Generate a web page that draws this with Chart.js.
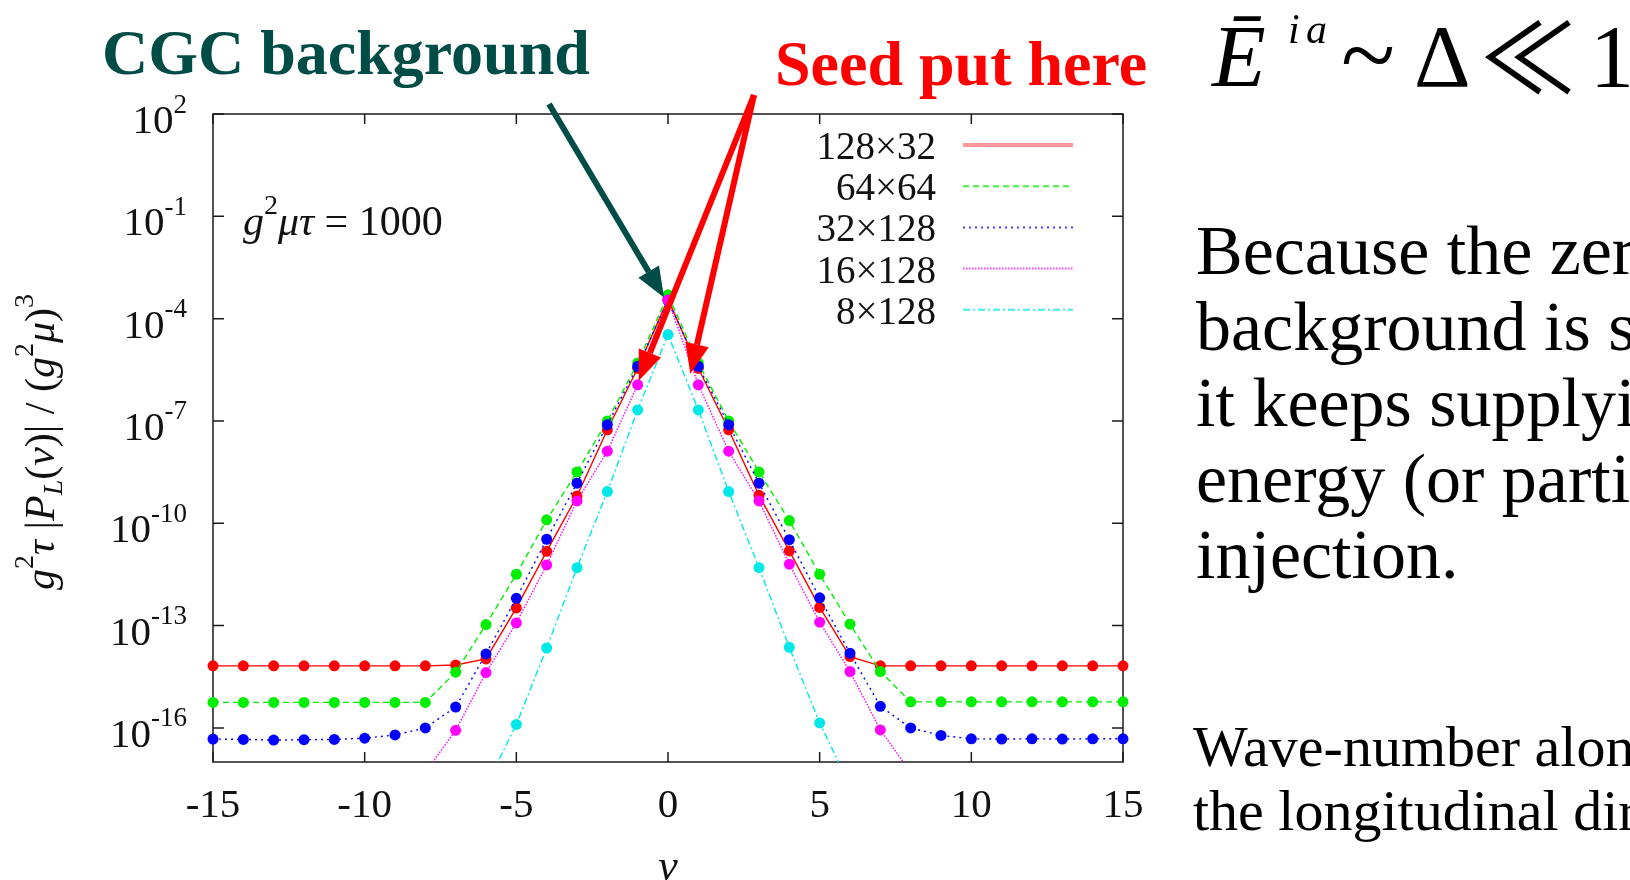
<!DOCTYPE html>
<html>
<head>
<meta charset="utf-8">
<script src="https://cdn.jsdelivr.net/npm/chart.js@4.4.1/dist/chart.umd.min.js"></script>
<style>
html, body { margin: 0; padding: 0; width: 1630px; height: 880px; overflow: hidden; background: #fff; }
#plot { position: absolute; left: 0; top: 0; }
.t { position: absolute; white-space: nowrap; font-family: "Liberation Serif", "Times New Roman", serif; line-height: 1; color: #000; }
.it { font-style: italic; }
#cgc { left: 102px; top: 21px; font-size: 64px; font-weight: bold; color: #004d47; }
#seed { left: 775px; top: 32px; font-size: 64px; font-weight: bold; color: #ff0000; }
.m88 { font-size: 88px; top: 13px; }
.m42 { font-size: 42px; top: 8px; }
#para { left: 1196px; top: 213px; font-size: 70px; line-height: 76px; }
#wave { left: 1193px; top: 715px; font-size: 58px; line-height: 64px; }
</style>
</head>
<body>
<canvas id="plot" width="1630" height="880"></canvas>

<div class="t" id="cgc">CGC background</div>
<div class="t" id="seed">Seed put here</div>

<span class="t it m88" style="left:1212px">Ē</span>
<span class="t it m42" style="left:1288px">i</span>
<span class="t it m42" style="left:1306px">a</span>
<span class="t" style="left:1341px; top:5px; font-size:100px">~</span>
<span class="t m88" style="left:1414px">Δ</span>
<span class="t" style="left:1480px; top:4px; font-size:96px; font-family:'Noto Sans CJK JP', 'DejaVu Serif', serif">≪</span>
<span class="t m88" style="left:1590px">1</span>

<div class="t" id="para">Because the zero-mode<br>background is strong,<br>it keeps supplying<br>energy (or particle)<br>injection.</div>
<div class="t" id="wave">Wave-number along<br>the longitudinal direction</div>

<script>
// wave number along the longitudinal direction
const nu = [-15, -14, -13, -12, -11, -10, -9, -8, -7, -6, -5, -4, -3, -2, -1, 0,
            1, 2, 3, 4, 5, 6, 7, 8, 9, 10, 11, 12, 13, 14, 15];

const seriesLabels = ['128×32', '64×64', '32×128', '16×128', '8×128'];

// g^2 tau |P_L(nu)| / (g^2 mu)^3 at g^2 mu tau = 1000
const red128x32 = [6.6e-15, 6.6e-15, 6.6e-15, 6.6e-15, 6.6e-15, 6.6e-15, 6.6e-15, 6.6e-15,
  7.0e-15, 1.05e-14, 3.3e-13, 1.5e-11, 6.3e-10, 5.5e-8, 3.5e-6, 3.8e-4, 3.5e-6, 5.5e-8,
  6.6e-10, 1.55e-11, 3.4e-13, 1.23e-14, 6.6e-15, 6.6e-15, 6.6e-15, 6.6e-15, 6.6e-15,
  6.6e-15, 6.6e-15, 6.6e-15, 6.6e-15];
const green64x64 = [5.6e-16, 5.6e-16, 5.6e-16, 5.6e-16, 5.6e-16, 5.6e-16, 5.6e-16, 5.6e-16,
  4.3e-15, 1.07e-13, 3.2e-12, 1.26e-10, 3.2e-9, 1.0e-7, 5.0e-6, 5.0e-4, 5.0e-6, 1.0e-7,
  3.2e-9, 1.2e-10, 3.2e-12, 1.1e-13, 4.5e-15, 5.8e-16, 5.8e-16, 5.8e-16, 5.8e-16,
  5.8e-16, 5.8e-16, 5.8e-16, 5.8e-16];
const blue32x128 = [4.7e-17, 4.6e-17, 4.4e-17, 4.5e-17, 4.6e-17, 5.0e-17, 6.2e-17, 1.0e-16,
  4.1e-16, 1.48e-14, 6.3e-13, 3.4e-11, 1.5e-9, 7.8e-8, 4.0e-6, 3.4e-4, 4.0e-6, 7.8e-8,
  1.5e-9, 3.3e-11, 6.5e-13, 1.55e-14, 4.3e-16, 1.0e-16, 6.0e-17, 4.8e-17, 4.7e-17,
  4.8e-17, 4.7e-17, 4.8e-17, 4.8e-17];
const magenta16x128 = [null, null, null, null, null, null, null, 5e-18,
  8.5e-17, 4.2e-15, 1.2e-13, 6.0e-12, 4.5e-10, 1.3e-8, 1.15e-6, 3.5e-4, 1.15e-6, 1.3e-8,
  4.5e-10, 6.3e-12, 1.26e-13, 4.5e-15, 8.7e-17, 5e-18, null, null, null,
  null, null, null, null];
const cyan8x128 = [null, null, null, null, null, null, null, null,
  null, 2e-18, 1.26e-16, 2.2e-14, 5.0e-12, 8.5e-10, 2.1e-7, 3.4e-5, 2.1e-7, 8.5e-10,
  5.0e-12, 2.3e-14, 1.4e-16, 2e-18, null, null, null, null, null,
  null, null, null, null];

const xTicks = [-15, -10, -5, 0, 5, 10, 15];
const yTickExponents = [2, -1, -4, -7, -10, -13, -16];

const seriesValues = [red128x32, green64x64, blue32x128, magenta16x128, cyan8x128];
const seriesColors = ['#ff0000', '#00ee00', '#0000ff', '#ff00ff', '#00e8e8'];
const seriesDash = [[], [6, 4], [2, 4], [1.5, 1.5], [7, 3, 2, 3]];

const serif = '"Liberation Serif", "Times New Roman", serif';

// text made of plain, italic, superscript and subscript pieces
function pieceFont(p, size) {
  const s = (p.sup || p.sub) ? Math.round(size * 0.66) : size;
  return (p.it ? 'italic ' : '') + s + 'px ' + serif;
}
function richText(ctx, parts, x, y, size, align) {
  let w = 0;
  parts.forEach(p => { ctx.font = pieceFont(p, size); w += ctx.measureText(p.t).width; });
  let cx = align === 'right' ? x - w : align === 'center' ? x - w / 2 : x;
  ctx.textAlign = 'left';
  ctx.textBaseline = 'alphabetic';
  parts.forEach(p => {
    ctx.font = pieceFont(p, size);
    const dy = p.sup ? -size * 0.5 : p.sub ? size * 0.2 : 0;
    ctx.fillText(p.t, cx, y + dy);
    cx += ctx.measureText(p.t).width;
  });
}

function arrow(ctx, x0, y0, x1, y1, color, width, headLen, headHalf) {
  const ang = Math.atan2(y1 - y0, x1 - x0);
  const bx = x1 - headLen * Math.cos(ang);
  const by = y1 - headLen * Math.sin(ang);
  ctx.strokeStyle = color;
  ctx.fillStyle = color;
  ctx.lineWidth = width;
  ctx.beginPath();
  ctx.moveTo(x0, y0);
  ctx.lineTo(bx, by);
  ctx.stroke();
  ctx.beginPath();
  ctx.moveTo(x1, y1);
  ctx.lineTo(bx + headHalf * Math.sin(ang), by - headHalf * Math.cos(ang));
  ctx.lineTo(bx - headHalf * Math.sin(ang), by + headHalf * Math.cos(ang));
  ctx.closePath();
  ctx.fill();
}

// gnuplot-like box: inward ticks on all sides, labels, legend and arrows
const framePlugin = {
  id: 'frame',
  beforeDatasetsDraw(chart) {
    const { ctx, chartArea: a, scales: { x, y } } = chart;
    ctx.save();
    ctx.strokeStyle = '#1a1a1a';
    ctx.lineWidth = 1.5;
    ctx.strokeRect(a.left, a.top, a.right - a.left, a.bottom - a.top);
    ctx.beginPath();
    xTicks.forEach(v => {
      const px = x.getPixelForValue(v);
      ctx.moveTo(px, a.bottom); ctx.lineTo(px, a.bottom - 10);
      ctx.moveTo(px, a.top); ctx.lineTo(px, a.top + 10);
    });
    yTickExponents.forEach(e => {
      const py = y.getPixelForValue(Math.pow(10, e));
      ctx.moveTo(a.left, py); ctx.lineTo(a.left + 11, py);
      ctx.moveTo(a.right, py); ctx.lineTo(a.right - 11, py);
    });
    ctx.stroke();

    ctx.fillStyle = '#111';
    xTicks.forEach(v => {
      richText(ctx, [{ t: String(v) }], x.getPixelForValue(v), a.bottom + 55, 41, 'center');
    });
    yTickExponents.forEach(e => {
      const py = y.getPixelForValue(Math.pow(10, e));
      richText(ctx, [{ t: '10' }, { t: String(e), sup: true }], a.left - 26, py + 19, 41, 'right');
    });

    // axis titles
    richText(ctx, [{ t: 'ν', it: true }], x.getPixelForValue(0), 880, 44, 'center');
    ctx.save();
    ctx.translate(54, 442);
    ctx.rotate(-Math.PI / 2);
    richText(ctx, [
      { t: 'g', it: true }, { t: '2', sup: true }, { t: 'τ', it: true }, { t: ' |' },
      { t: 'P', it: true }, { t: 'L', it: true, sub: true }, { t: '(' }, { t: 'ν', it: true },
      { t: ')| / (' }, { t: 'g', it: true }, { t: '2', sup: true }, { t: 'μ', it: true },
      { t: ')' }, { t: '3', sup: true }
    ], 0, 0, 42, 'center');
    ctx.restore();

    richText(ctx, [
      { t: 'g', it: true }, { t: '2', sup: true }, { t: 'μτ', it: true }, { t: ' = 1000' }
    ], a.left + 30, a.top + 121, 42, 'left');
    ctx.restore();
  },
  afterDraw(chart) {
    const { ctx, chartArea: a, scales: { x, y } } = chart;
    ctx.save();

    // key, top right inside the box
    seriesLabels.forEach((lab, i) => {
      const ly = a.top + 31 + 41.2 * i;
      ctx.fillStyle = '#111';
      richText(ctx, [{ t: lab }], a.right - 187, ly + 14, 39, 'right');
      ctx.strokeStyle = seriesColors[i];
      ctx.globalAlpha = i === 0 ? 0.4 : 0.75;
      ctx.lineWidth = i === 0 ? 4 : 2;
      ctx.setLineDash(seriesDash[i]);
      ctx.beginPath();
      ctx.moveTo(a.right - 160, ly);
      ctx.lineTo(a.right - 50, ly);
      ctx.stroke();
      ctx.setLineDash([]);
      ctx.globalAlpha = 1;
    });

    // pointers to the peak and to the seeded modes
    const peakX = x.getPixelForValue(0);
    const peakY = y.getPixelForValue(blue32x128[15]);
    arrow(ctx, 549, 104, peakX - 4, peakY - 3, '#004d47', 6, 30, 12);
    const mLx = x.getPixelForValue(-1), mLy = y.getPixelForValue(magenta16x128[14]);
    const mRx = x.getPixelForValue(1), mRy = y.getPixelForValue(magenta16x128[16]);
    arrow(ctx, 754, 95, mLx + 1, mLy - 4, '#ff0000', 6, 30, 12);
    arrow(ctx, 754, 95, mRx - 8, mRy - 11, '#ff0000', 6, 30, 12);
    ctx.restore();
  }
};

const datasets = seriesValues.map((vals, i) => ({
  label: seriesLabels[i],
  data: nu.map((v, k) => ({ x: v, y: vals[k] })),
  borderColor: seriesColors[i],
  backgroundColor: seriesColors[i],
  pointBackgroundColor: seriesColors[i],
  pointBorderWidth: 0,
  pointRadius: 5.5,
  borderWidth: 1.4,
  borderDash: seriesDash[i],
  tension: 0,
  spanGaps: false,
  order: seriesValues.length - i,
  clip: { left: 8, right: 8, top: 0, bottom: 0 }
}));

new Chart(document.getElementById('plot'), {
  type: 'line',
  data: { datasets },
  options: {
    responsive: false,
    animation: false,
    devicePixelRatio: 1,
    layout: { padding: { left: 213, top: 114, right: 507, bottom: 118 } },
    scales: {
      x: { type: 'linear', min: -15, max: 15, display: false },
      y: { type: 'logarithmic', min: 1e-17, max: 1e2, display: false }
    },
    plugins: { legend: { display: false }, tooltip: { enabled: false } }
  },
  plugins: [framePlugin]
});
</script>
</body>
</html>
